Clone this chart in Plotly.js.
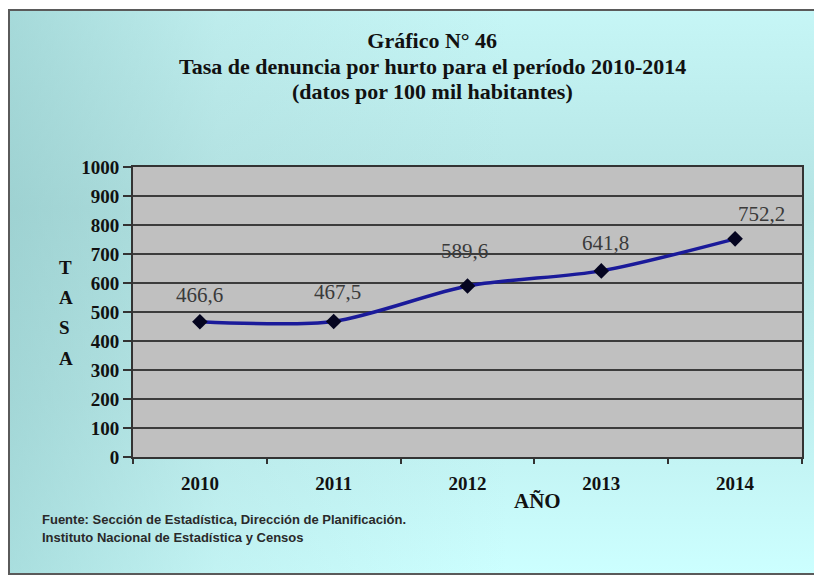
<!DOCTYPE html>
<html><head><meta charset="utf-8">
<script src="https://cdn.plot.ly/plotly-3.0.1.min.js"></script>
<style>
html,body{margin:0;padding:0;background:#fff;}
#wrap{position:relative;width:814px;height:576px;overflow:hidden;}
#frame{position:absolute;left:8px;top:9px;width:830px;height:562px;border:2px solid #5a5a5a;
 background:linear-gradient(to right, rgba(140,195,195,0.55) 0%, rgba(170,215,215,0.3) 25%, rgba(204,255,255,0) 60%),
 linear-gradient(to bottom, #c6f6f6 0%, #b4e4e4 35%, #bfefef 70%, #ccffff 100%);}
#chart{position:absolute;left:0;top:0;width:814px;height:576px;}
</style></head>
<body><div id="wrap"><div id="frame"></div><div id="chart"></div></div>
<script>
const years = [2010, 2011, 2012, 2013, 2014];
const tasa = [466.6, 467.5, 589.6, 641.8, 752.2];
const labels = ['466,6','467,5','589,6','641,8','752,2'];
const yTicks = [0,100,200,300,400,500,600,700,800,900,1000];
const titleLines = ['Gráfico N° 46','Tasa de denuncia por hurto para el período 2010-2014','(datos por 100 mil habitantes)'];
const yTitleLetters = ['T','A','S','A'];
const xTitle = 'AÑO';
const source = ['Fuente: Sección de Estadística, Dirección de Planificación.','Instituto Nacional de Estadística y Censos'];

const serif = 'Liberation Serif, Times New Roman, serif';
const sans = 'Liberation Sans, Arial, sans-serif';

const traces = [{
  x: years, y: tasa, type: 'scatter', mode: 'lines+markers',
  line: {color: '#1a1a9a', width: 3.5, shape: 'spline', smoothing: 0.8},
  marker: {symbol: 'diamond', size: 12, color: '#050520'},
  hoverinfo: 'skip'
}];

const labelDx = [0, 4, -3, 4, 26];
const labelDy = [27, 29, 35, 28, 25];
const annotations = [];
labels.forEach((t, i) => {
  annotations.push({x: years[i], y: tasa[i], xref: 'x', yref: 'y', text: t, showarrow: false,
    yshift: labelDy[i], xshift: labelDx[i],
    font: {family: serif, size: 21, color: '#3a3a3a'}});
});
const titleY = [1.348, 1.259];
[titleLines[1], titleLines[2]].forEach((t, i) => {
  annotations.push({xref: 'paper', yref: 'paper', x: 0.447, y: titleY[i], yanchor: 'middle', text: t,
    showarrow: false, font: {family: serif, size: 22, color: '#111', weight: 'bold'}});
});
const yLetterPos = [0.655, 0.55, 0.445, 0.34];
yTitleLetters.forEach((l, i) => {
  annotations.push({xref: 'paper', yref: 'paper', x: -0.114, y: yLetterPos[i], text: l,
    showarrow: false, font: {family: serif, size: 19, color: '#111', weight: 'bold'}});
});
annotations.push({xref: 'paper', yref: 'paper', x: 0.605, y: -0.2, text: xTitle,
  showarrow: false, font: {family: serif, size: 21, color: '#111', weight: 'bold'}});
annotations.push({xref: 'paper', yref: 'paper', x: -0.139, y: -0.217, xanchor: 'left', yanchor: 'middle',
  align: 'left', text: source[0], showarrow: false, font: {family: sans, size: 13, color: '#2a2a2a', weight: 'bold'}});
annotations.push({xref: 'paper', yref: 'paper', x: -0.139, y: -0.279, xanchor: 'left', yanchor: 'middle',
  align: 'left', text: source[1], showarrow: false, font: {family: sans, size: 13, color: '#2a2a2a', weight: 'bold'}});

const layout = {
  width: 814, height: 576,
  margin: {l: 133, r: 12, t: 167, b: 119},
  paper_bgcolor: 'rgba(0,0,0,0)', plot_bgcolor: '#c0c0c0',
  showlegend: false,
  title: {text: titleLines[0], x: 0.531, xanchor: 'center', y: 0.9306, yanchor: 'middle',
    font: {family: serif, size: 22, color: '#111', weight: 'bold'}},
  xaxis: {range: [2009.5, 2014.5], tickvals: years, ticktext: years.map(String),
    ticks: 'outside', ticklen: 8, tickcolor: 'rgba(0,0,0,0)',
    minor: {tickmode: 'linear', tick0: 2009.5, dtick: 1, ticks: 'outside', ticklen: 5, tickwidth: 2, tickcolor: '#333', showgrid: false},
    showgrid: false, zeroline: false, showline: true, linecolor: '#333', linewidth: 2, mirror: true,
    tickfont: {family: serif, size: 19, color: '#111', weight: 'bold'}, fixedrange: true},
  yaxis: {range: [0, 1000], tickvals: yTicks, ticktext: yTicks.map(String), ticks: 'outside', ticklen: 8, tickwidth: 2,
    tickcolor: '#333', showgrid: true, gridcolor: '#3c3c3c', gridwidth: 2, showline: true, linecolor: '#333',
    linewidth: 2, mirror: true, zeroline: false, tickfont: {family: serif, size: 19, color: '#111', weight: 'bold'}, fixedrange: true},
  annotations: annotations
};
Plotly.newPlot('chart', traces, layout, {displayModeBar: false, staticPlot: true});
</script></body></html>
